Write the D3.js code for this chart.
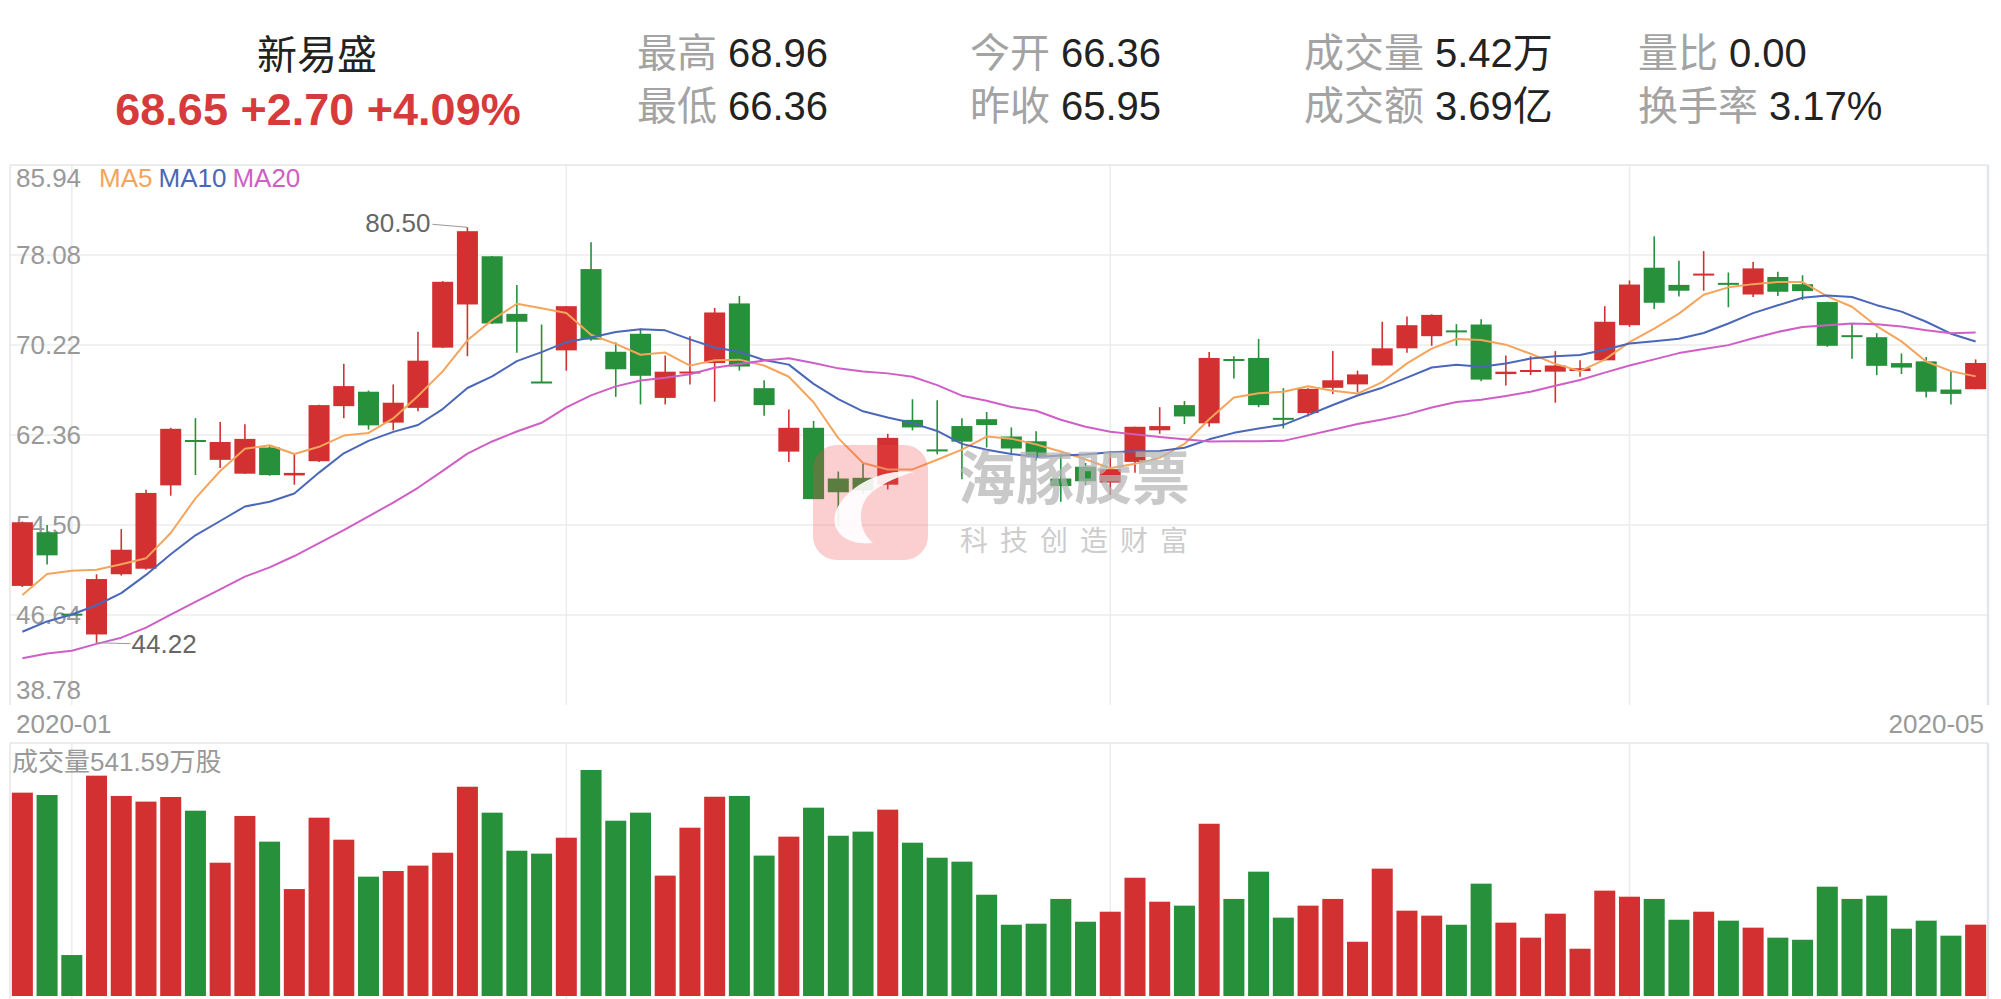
<!DOCTYPE html>
<html>
<head>
<meta charset="utf-8">
<script src="https://cdn.jsdelivr.net/npm/d3@7"></script>
<style>
  html, body { margin: 0; padding: 0; background: #fff; }
  svg { display: block; font-family: "Liberation Sans", "Noto Sans CJK SC", sans-serif; }
</style>
</head>
<body>
<svg id="chart" width="2001" height="999"></svg>
<script>
// trading days shown (Jan 22 2020 .. May 26 2020)
const dates = [
  "2020-01-22", "2020-01-23",
  "2020-02-03", "2020-02-04", "2020-02-05", "2020-02-06", "2020-02-07", "2020-02-10", "2020-02-11", "2020-02-12",
  "2020-02-13", "2020-02-14", "2020-02-17", "2020-02-18", "2020-02-19", "2020-02-20", "2020-02-21", "2020-02-24",
  "2020-02-25", "2020-02-26", "2020-02-27", "2020-02-28",
  "2020-03-02", "2020-03-03", "2020-03-04", "2020-03-05", "2020-03-06", "2020-03-09", "2020-03-10", "2020-03-11",
  "2020-03-12", "2020-03-13", "2020-03-16", "2020-03-17", "2020-03-18", "2020-03-19", "2020-03-20", "2020-03-23",
  "2020-03-24", "2020-03-25", "2020-03-26", "2020-03-27", "2020-03-30", "2020-03-31",
  "2020-04-01", "2020-04-02", "2020-04-03", "2020-04-07", "2020-04-08", "2020-04-09", "2020-04-10", "2020-04-13",
  "2020-04-14", "2020-04-15", "2020-04-16", "2020-04-17", "2020-04-20", "2020-04-21", "2020-04-22", "2020-04-23",
  "2020-04-24", "2020-04-27", "2020-04-28", "2020-04-29", "2020-04-30",
  "2020-05-06", "2020-05-07", "2020-05-08", "2020-05-11", "2020-05-12", "2020-05-13", "2020-05-14", "2020-05-15",
  "2020-05-18", "2020-05-19", "2020-05-20", "2020-05-21", "2020-05-22", "2020-05-25", "2020-05-26"
];

const openP = [
  49.18, 53.87, 46.67, 44.94, 50.20, 50.68, 57.96, 61.87, 60.19, 58.98,
  61.27, 58.83, 60.07, 64.88, 66.14, 63.44, 64.73, 69.99, 73.76, 77.97,
  72.94, 66.96, 69.75, 76.85, 69.63, 71.20, 65.60, 67.74, 68.64, 73.85,
  66.45, 60.91, 62.99, 58.56, 58.62, 58.02, 63.68, 61.03, 63.14, 63.74,
  62.23, 61.81, 58.56, 59.59, 58.20, 60.01, 62.77, 64.97, 63.38, 68.94,
  69.09, 63.80, 64.28, 66.48, 66.78, 68.43, 69.93, 70.99, 71.47, 72.01,
  67.68, 67.92, 67.89, 67.95, 68.88, 71.95, 76.97, 75.47, 76.34, 75.62,
  74.63, 76.16, 75.53, 73.97, 71.02, 70.90, 68.64, 68.79, 66.33, 66.36
];
const highP = [
  54.80, 54.50, 46.67, 50.20, 54.14, 57.57, 62.99, 63.83, 63.50, 63.29,
  61.42, 60.73, 65.00, 68.58, 66.24, 66.78, 71.38, 75.80, 80.50, 78.00,
  75.47, 72.01, 73.61, 79.20, 70.45, 71.65, 69.30, 70.99, 73.46, 74.51,
  67.14, 64.58, 63.59, 59.17, 59.92, 62.47, 65.48, 65.39, 63.83, 64.37,
  63.02, 62.69, 60.73, 59.92, 60.97, 63.08, 64.79, 65.33, 69.60, 69.24,
  70.75, 66.45, 66.45, 69.69, 67.98, 72.25, 72.70, 72.90, 72.04, 72.46,
  69.30, 69.24, 69.69, 68.88, 73.61, 75.86, 79.71, 77.58, 78.42, 76.55,
  77.46, 76.61, 76.31, 74.00, 72.10, 71.26, 69.48, 69.18, 67.95, 68.96
];
const lowP = [
  49.09, 51.04, 46.67, 44.22, 50.08, 50.60, 57.06, 58.86, 59.47, 58.95,
  58.80, 58.02, 60.00, 63.83, 62.83, 62.77, 64.43, 69.95, 69.24, 72.05,
  69.54, 66.93, 67.98, 70.60, 65.69, 65.03, 65.03, 66.78, 65.27, 67.98,
  64.04, 60.01, 56.76, 54.35, 57.21, 57.60, 62.77, 60.67, 58.50, 61.27,
  60.73, 60.13, 56.52, 57.96, 57.12, 59.07, 62.47, 63.32, 63.08, 67.29,
  64.79, 62.93, 63.98, 65.93, 66.08, 68.43, 69.54, 70.15, 70.15, 67.05,
  66.69, 67.59, 65.18, 67.44, 68.88, 71.80, 73.37, 74.45, 74.96, 73.52,
  74.42, 74.51, 74.15, 70.06, 69.03, 67.59, 67.68, 65.63, 65.03, 66.36
];
const closeP = [
  54.74, 51.85, 46.67, 49.78, 52.34, 57.30, 62.90, 61.80, 61.75, 62.02,
  58.86, 59.05, 64.97, 66.63, 63.20, 65.18, 68.85, 75.74, 80.16, 72.10,
  72.25, 66.93, 73.61, 70.69, 68.10, 67.53, 67.89, 67.89, 73.06, 68.34,
  64.97, 62.99, 56.76, 57.36, 57.51, 62.11, 63.02, 61.00, 61.78, 63.23,
  61.18, 60.52, 57.90, 58.32, 59.38, 63.08, 63.14, 63.98, 69.09, 68.88,
  64.97, 63.74, 66.39, 67.14, 67.65, 69.93, 71.95, 72.85, 71.35, 67.20,
  67.89, 67.98, 68.43, 68.19, 72.25, 75.50, 73.91, 74.96, 76.40, 75.50,
  76.91, 74.87, 74.93, 70.15, 70.96, 68.40, 68.25, 66.14, 65.95, 68.65
];
// volume in 万股
const volumes = [
  1544, 1526, 311, 1673, 1519, 1476, 1511, 1407, 1012, 1367,
  1172, 812, 1354, 1187, 906, 949, 990, 1088, 1589, 1392,
  1103, 1081, 1202, 1716, 1331, 1392, 914, 1278, 1513, 1519,
  1066, 1210, 1430, 1217, 1248, 1415, 1164, 1050, 1020, 769,
  541, 549, 737, 564, 640, 898, 716, 686, 1308, 737,
  944, 595, 686, 737, 412, 967, 648, 610, 541, 853,
  557, 443, 625, 359, 800, 754, 737, 579, 640, 572,
  519, 443, 427, 830, 737, 762, 511, 572, 458, 541.59
];

// moving average values before a full window exists
const ma5Head = [48.39, 50.23, 50.50, 50.59];
const ma10Head = [45.18, 46.08, 46.68, 47.49, 48.55, 50.14, 51.94, 53.60, 54.85];
const ma20Head = [42.86, 43.28, 43.52, 44.12, 44.66, 45.54, 46.68, 47.79, 48.88, 49.99,
                  50.80, 51.79, 52.91, 54.05, 55.25, 56.46, 57.75, 59.23, 60.73];

const priceTicks = [38.78, 46.64, 54.50, 62.36, 70.22, 78.08, 85.94];
const maNames = ["MA5", "MA10", "MA20"];
const maColors = ["#f5a45c", "#4a67b9", "#cf5fc6"];

const stockName = "新易盛";
const turnoverText = "3.69亿";
const volRatioText = "0.00";
const turnoverRateText = "3.17%";

const UP = "#d33131", DOWN = "#26903b";
const GRID = "#ececec";

const svg = d3.select("#chart");
const n = closeP.length;
const f2 = d3.format(".2f");

// layout
const left = 10, right = 1988;
const priceTop = 165, priceBottom = 705;
const volTop = 743, volBottom = 996;

const x = d3.scaleBand()
  .domain(d3.range(n))
  .range([left, right])
  .paddingInner(0.15)
  .paddingOuter(0.075);
const xc = i => x(i) + x.bandwidth() / 2;

const y = d3.scaleLinear()
  .domain([priceTicks[0], priceTicks[priceTicks.length - 1]])
  .range([priceBottom, priceTop]);

const yVol = d3.scaleLinear()
  .domain([0, d3.max(volumes)])
  .range([volBottom, 770]);

function movingAverage(values, len, head) {
  return values.map((v, i) => i < len - 1 ? head[i] : d3.mean(values.slice(i - len + 1, i + 1)));
}
const maSeries = [
  movingAverage(closeP, 5, ma5Head),
  movingAverage(closeP, 10, ma10Head),
  movingAverage(closeP, 20, ma20Head)
];

// ---------- header ----------
const last = n - 1;
const change = closeP[last] - closeP[last - 1];
const pct = change / closeP[last - 1] * 100;

svg.append("text")
  .attr("x", 317).attr("y", 69)
  .attr("text-anchor", "middle")
  .attr("font-size", 40)
  .attr("fill", "#222")
  .text(stockName);

svg.append("text")
  .attr("x", 318).attr("y", 125)
  .attr("text-anchor", "middle")
  .attr("font-size", 45)
  .attr("font-weight", "bold")
  .attr("fill", "#d63a3a")
  .attr("stroke", "#fff").attr("stroke-width", 0.8).attr("paint-order", "stroke")
  .text(`${f2(closeP[last])} ${d3.format("+.2f")(change)} ${d3.format("+.2f")(pct)}%`);

const stats = [
  ["最高", f2(highP[last])], ["最低", f2(lowP[last])],
  ["今开", f2(openP[last])], ["昨收", f2(closeP[last - 1])],
  ["成交量", f2(volumes[last] / 100) + "万"], ["成交额", turnoverText],
  ["量比", volRatioText], ["换手率", turnoverRateText]
];
const statCols = [637, 970, 1304, 1638];
const statRows = [67, 120];
stats.forEach((s, i) => {
  const t = svg.append("text")
    .attr("x", statCols[Math.floor(i / 2)])
    .attr("y", statRows[i % 2])
    .attr("font-size", 40);
  t.append("tspan").attr("fill", "#a3a3a3").text(s[0]);
  t.append("tspan").attr("dx", 11).attr("fill", "#222").text(s[1]);
});

// ---------- grid ----------
const grid = svg.append("g");
grid.selectAll(".hgrid")
  .data(priceTicks.slice(1, -1))
  .enter().append("line")
  .attr("x1", left).attr("x2", right)
  .attr("y1", d => y(d)).attr("y2", d => y(d))
  .attr("stroke", GRID).attr("stroke-width", 1.5);

const monthStarts = d3.range(1, n).filter(i => dates[i].slice(0, 7) !== dates[i - 1].slice(0, 7));
monthStarts.forEach(i => {
  grid.append("line")
    .attr("x1", xc(i)).attr("x2", xc(i))
    .attr("y1", priceTop).attr("y2", priceBottom)
    .attr("stroke", GRID).attr("stroke-width", 1.5);
  grid.append("line")
    .attr("x1", xc(i)).attr("x2", xc(i))
    .attr("y1", volTop).attr("y2", 999)
    .attr("stroke", GRID).attr("stroke-width", 1.5);
});

// panel borders
[[left, priceTop, right, priceTop], [left, priceTop, left, priceBottom],
 [left, volTop, right, volTop], [left, volTop, left, 999]].forEach(l => {
  grid.append("line")
    .attr("x1", l[0]).attr("y1", l[1]).attr("x2", l[2]).attr("y2", l[3])
    .attr("stroke", "#e6e6e6").attr("stroke-width", 1.5);
});
[[priceTop, priceBottom], [volTop, 999]].forEach(r => {
  grid.append("line")
    .attr("x1", right).attr("x2", right).attr("y1", r[0]).attr("y2", r[1])
    .attr("stroke", "#e2e5ee").attr("stroke-width", 2.5);
});

// y tick labels (drawn under the candles)
svg.append("g").selectAll("text")
  .data(priceTicks)
  .enter().append("text")
  .attr("x", 16)
  .attr("y", (d, i) => i === 0 ? priceBottom - 6 : i === priceTicks.length - 1 ? priceTop + 22 : y(d) + 9)
  .attr("font-size", 26)
  .attr("fill", "#999")
  .text(d => f2(d));

// x labels
svg.append("text")
  .attr("x", 16).attr("y", 733)
  .attr("font-size", 26).attr("fill", "#999")
  .text(dates[0].slice(0, 7));
svg.append("text")
  .attr("x", 1984).attr("y", 733)
  .attr("text-anchor", "end")
  .attr("font-size", 26).attr("fill", "#999")
  .text(dates[last].slice(0, 7));

// ---------- candles ----------
const color = i => closeP[i] > openP[i] ? UP : DOWN;
const candles = svg.append("g").selectAll("g")
  .data(d3.range(n))
  .enter().append("g");

candles.append("line")
  .attr("x1", i => xc(i)).attr("x2", i => xc(i))
  .attr("y1", i => y(highP[i])).attr("y2", i => y(lowP[i]))
  .attr("stroke", color).attr("stroke-width", 1.6);

candles.append("rect")
  .attr("x", i => x(i))
  .attr("width", x.bandwidth())
  .attr("y", i => {
    const top = y(Math.max(openP[i], closeP[i]));
    const h = Math.abs(y(openP[i]) - y(closeP[i]));
    return h < 2 ? top - (2 - h) / 2 : top;
  })
  .attr("height", i => Math.max(2, Math.abs(y(openP[i]) - y(closeP[i]))))
  .attr("fill", color);

// ---------- moving averages ----------
const line = d3.line().x((d, i) => xc(i)).y(d => y(d));
maSeries.forEach((s, k) => {
  svg.append("path")
    .datum(s)
    .attr("d", line)
    .attr("fill", "none")
    .attr("stroke", maColors[k])
    .attr("stroke-width", 2)
    .attr("stroke-linejoin", "round");
});

// legend
let lx = 99;
maNames.forEach((name, k) => {
  const t = svg.append("text")
    .attr("x", lx).attr("y", priceTop + 22)
    .attr("font-size", 26)
    .attr("fill", maColors[k])
    .text(name);
  lx += t.node().getComputedTextLength() + 6;
});

// max / min annotations
const iMax = d3.maxIndex(highP), iMin = d3.minIndex(lowP);
svg.append("line")
  .attr("x1", xc(iMax) - 35).attr("y1", y(highP[iMax]) - 3)
  .attr("x2", xc(iMax)).attr("y2", y(highP[iMax]))
  .attr("stroke", "#999").attr("stroke-width", 1);
svg.append("text")
  .attr("x", xc(iMax) - 37).attr("y", y(highP[iMax]) + 5)
  .attr("text-anchor", "end")
  .attr("font-size", 26).attr("fill", "#666")
  .text(f2(highP[iMax]));
svg.append("line")
  .attr("x1", xc(iMin)).attr("y1", y(lowP[iMin]))
  .attr("x2", xc(iMin) + 34).attr("y2", y(lowP[iMin]) + 1)
  .attr("stroke", "#999").attr("stroke-width", 1);
svg.append("text")
  .attr("x", xc(iMin) + 35).attr("y", y(lowP[iMin]) + 10)
  .attr("font-size", 26).attr("fill", "#666")
  .text(f2(lowP[iMin]));

// ---------- volume ----------
svg.append("g").selectAll("rect")
  .data(volumes)
  .enter().append("rect")
  .attr("x", (d, i) => x(i))
  .attr("width", x.bandwidth())
  .attr("y", d => yVol(d))
  .attr("height", d => volBottom - yVol(d))
  .attr("fill", (d, i) => color(i));

svg.append("text")
  .attr("x", 12).attr("y", 771)
  .attr("font-size", 26).attr("fill", "#999")
  .text(`成交量${f2(volumes[last])}万股`);

// ---------- watermark ----------
const wm = svg.append("g").attr("pointer-events", "none");
wm.append("rect")
  .attr("x", 813).attr("y", 445).attr("width", 115).attr("height", 115).attr("rx", 24)
  .attr("fill", "#f04a4f").attr("opacity", 0.27);
wm.append("path")
  .attr("d", "M914,472 C880,468 846,487 836,511 C829,531 846,546 873,543 C858,531 856,506 872,492 C885,482 900,476 914,472 Z")
  .attr("fill", "#fff").attr("opacity", 0.9);
wm.append("text")
  .attr("x", 958).attr("y", 499)
  .attr("font-size", 58).attr("font-weight", "bold")
  .attr("fill", "#b5b5b5").attr("opacity", 0.72)
  .text("海豚股票");
wm.append("text")
  .attr("x", 960).attr("y", 551)
  .attr("font-size", 28).attr("letter-spacing", 12)
  .attr("fill", "#b8b8b8").attr("opacity", 0.7)
  .text("科技创造财富");
</script>
</body>
</html>
